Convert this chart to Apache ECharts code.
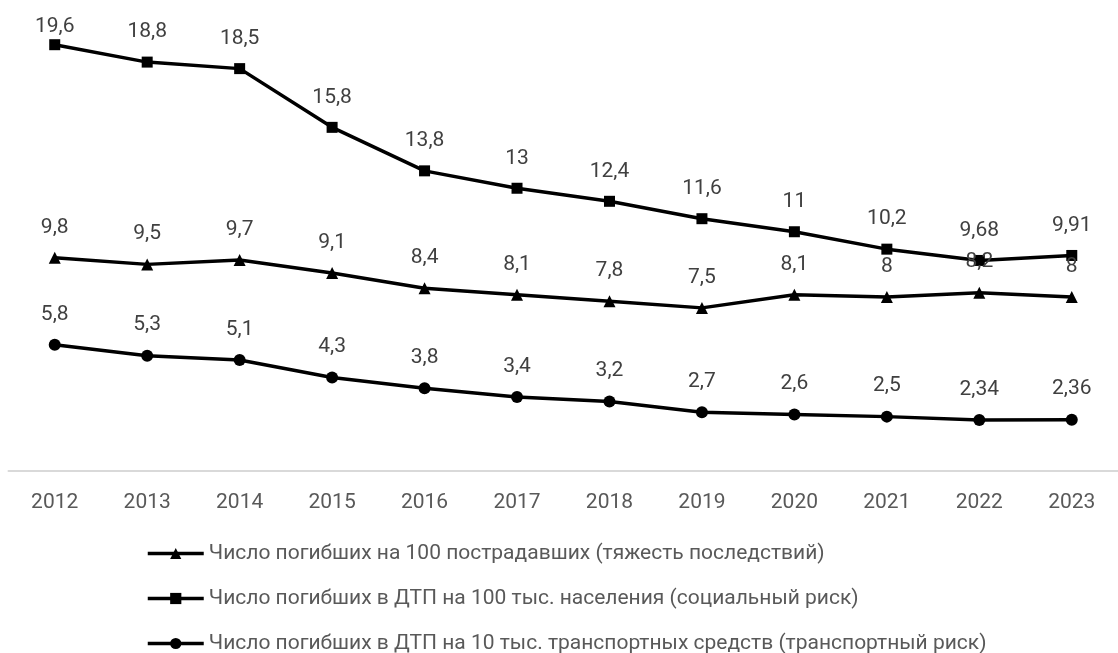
<!DOCTYPE html>
<html>
<head>
<meta charset="utf-8">
<script src="https://cdn.jsdelivr.net/npm/echarts@6/dist/echarts.min.js"></script>
<style>
  html, body { margin: 0; padding: 0; background: #fff; }
  #chart { width: 1118px; height: 653px; }
</style>
</head>
<body>
<div id="chart"></div>
<script>
// годы
var years = ["2012", "2013", "2014", "2015", "2016", "2017", "2018", "2019", "2020", "2021", "2022", "2023"];
// тяжесть последствий
var severity = [9.8, 9.5, 9.7, 9.1, 8.4, 8.1, 7.8, 7.5, 8.1, 8, 8.2, 8];
// социальный риск
var socialRisk = [19.6, 18.8, 18.5, 15.8, 13.8, 13, 12.4, 11.6, 11, 10.2, 9.68, 9.91];
// транспортный риск
var transportRisk = [5.8, 5.3, 5.1, 4.3, 3.8, 3.4, 3.2, 2.7, 2.6, 2.5, 2.34, 2.36];

var names = [
  "Число погибших на 100 пострадавших (тяжесть последствий)",
  "Число погибших в ДТП на 100 тыс. населения (социальный риск)",
  "Число погибших в ДТП на 10 тыс. транспортных средств (транспортный риск)"
];

var font = "Roboto, 'Open Sans', sans-serif";

function commaFmt(p) {
  return String(p.value).replace(".", ",");
}

function makeSeries(name, data, symbol, size) {
  return {
    name: name,
    type: "line",
    data: data,
    symbol: symbol,
    symbolSize: size,
    lineStyle: { color: "#000", width: 3.5 },
    itemStyle: { color: "#000" },
    label: {
      show: true,
      position: "top",
      distance: 14,
      color: "#404040",
      fontFamily: font,
      fontSize: 21,
      formatter: commaFmt
    },
    labelLayout: function (p) {
      // не даём подписи вылезти за верх
      if (p.labelRect.y < 16) {
        return { dy: 16 - p.labelRect.y };
      }
    },
    emphasis: { disabled: true },
    animation: false
  };
}

var myChart = echarts.init(document.getElementById("chart"));
var option = {
  backgroundColor: "#fff",
  grid: { left: 8.5, right: -8, top: 36, bottom: 182, containLabel: false },
  xAxis: {
    type: "category",
    data: years,
    boundaryGap: true,
    axisLine: { lineStyle: { color: "#d9d9d9", width: 2 } },
    axisTick: { show: false },
    axisLabel: { color: "#595959", fontFamily: font, fontSize: 21, margin: 21 }
  },
  yAxis: {
    type: "value",
    min: 0,
    max: 20,
    show: false,
    splitLine: { show: false }
  },
  legend: {
    orient: "vertical",
    left: 146,
    top: 543,
    height: 140,
    padding: 0,
    itemWidth: 56,
    itemHeight: 14,
    itemGap: 24,
    lineStyle: { width: 3.5, color: "#000" },
    textStyle: { color: "#595959", fontFamily: font, fontSize: 21 },
    data: names
  },
  series: [
    makeSeries(names[0], severity, "triangle", 12),
    makeSeries(names[1], socialRisk, "rect", 11),
    makeSeries(names[2], transportRisk, "circle", 12)
  ]
};
myChart.setOption(option);
</script>
</body>
</html>
